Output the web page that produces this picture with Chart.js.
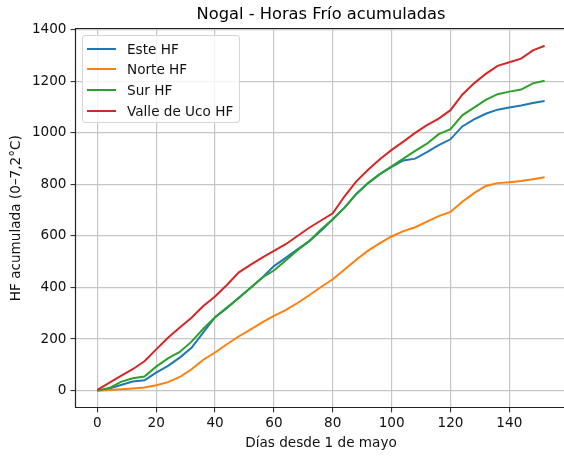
<!DOCTYPE html>
<html>
<head>
<meta charset="utf-8">
<script src="https://cdn.jsdelivr.net/npm/chart.js@4/dist/chart.umd.min.js"></script>
<style>
  html, body { margin: 0; padding: 0; overflow: hidden; background: #fff; }
  #wrap { position: relative; width: 580px; height: 458px; }
  #legend {
    position: absolute; left: 82px; top: 35px; width: 156px; height: 86px;
    background: rgba(255,255,255,0.8); border: 1px solid #d6d6d6; border-radius: 3px;
    font-family: 'DejaVu Sans', sans-serif; font-size: 13.6px; color: #111;
  }
  #legend .row { position: absolute; left: 0; height: 18px; display: flex; align-items: center; white-space: nowrap; }
  #legend .swatch { display: inline-block; width: 29px; height: 2px; margin-left: 4px; margin-right: 11px; }
</style>
</head>
<body>
<div id="wrap">
  <canvas id="chart"></canvas>
  <div id="legend"></div>
</div>
<script>
'use strict';

// ── Data ──────────────────────────────────────────────────────────────────────

const days = [0, 4, 8, 12, 16, 20, 24, 28, 32, 36, 40, 44, 48, 52, 56, 60, 64, 68, 72, 76,
              80, 84, 88, 92, 96, 100, 104, 108, 112, 116, 120, 124, 128, 132, 136, 140, 144, 148, 152];

const esteHF  = [0, 8, 22, 35, 40, 70, 96, 128, 166, 226, 285, 320, 360, 398, 438, 483, 515, 548, 580, 620,
                 665, 710, 763, 805, 840, 868, 893, 900, 925, 952, 975, 1025, 1052, 1074, 1090, 1098, 1106, 1116, 1124];
const norteHF = [0, 2, 5, 8, 12, 21, 33, 53, 83, 120, 148, 180, 210, 237, 265, 290, 312, 340, 370, 402,
                 432, 470, 508, 543, 572, 598, 619, 634, 656, 677, 693, 733, 766, 794, 805, 808, 813, 820, 828];
const surHF   = [0, 10, 34, 48, 55, 93, 125, 150, 190, 240, 285, 322, 358, 398, 438, 466, 505, 545, 580, 625,
                 665, 710, 763, 805, 840, 870, 900, 930, 958, 995, 1014, 1068, 1098, 1128, 1150, 1160, 1168, 1192, 1202];
const valleHF = [3, 30, 57, 83, 114, 160, 205, 245, 283, 328, 365, 410, 458, 488, 516, 542, 568, 600, 632, 660,
                 688, 754, 812, 857, 898, 934, 966, 1000, 1030, 1055, 1088, 1148, 1192, 1229, 1260, 1274, 1288, 1320, 1338];

const seriesNames  = ['Este HF', 'Norte HF', 'Sur HF', 'Valle de Uco HF'];
const seriesColors = ['#1f77b4', '#ff7f0e', '#2ca02c', '#d62728'];

const xTicks = [0, 20, 40, 60, 80, 100, 120, 140];
const yTicks = [0, 200, 400, 600, 800, 1000, 1200, 1400];

// ── Helpers ───────────────────────────────────────────────────────────────────

const FONT = "'DejaVu Sans', sans-serif";
const TEXT = '#111';

function lineDataset(label, values, color, order) {
  return {
    label,
    data: days.map((d, i) => ({ x: d, y: values[i] })),
    borderColor: color,
    backgroundColor: color,
    borderWidth: 2,
    pointRadius: 0,
    tension: 0,
    order,
  };
}

// matplotlib draws a full box round the axes
const frame = {
  id: 'frame',
  afterDraw(chart) {
    const { ctx, chartArea: a } = chart;
    const l = Math.round(a.left) + 0.5, t = Math.round(a.top) + 0.5;
    const r = Math.round(a.right) - 0.5, b = Math.round(a.bottom) - 0.5;
    ctx.save();
    ctx.strokeStyle = '#222';
    ctx.lineWidth = 1.2;
    ctx.beginPath();
    ctx.moveTo(l, b); ctx.lineTo(l, t); ctx.lineTo(r, t); ctx.lineTo(r, b); ctx.closePath();
    ctx.stroke();
    ctx.restore();
  },
};

// ── Chart ─────────────────────────────────────────────────────────────────────

const grid = { color: '#c6c6c6', lineWidth: 1.2, tickColor: '#222', tickLength: 4.5, tickWidth: 1 };

const chart = new Chart(document.getElementById('chart'), {
  type: 'line',
  data: {
    datasets: [
      lineDataset(seriesNames[0], esteHF, seriesColors[0], 4),
      lineDataset(seriesNames[1], norteHF, seriesColors[1], 3),
      lineDataset(seriesNames[2], surHF, seriesColors[2], 2),
      lineDataset(seriesNames[3], valleHF, seriesColors[3], 1),
    ],
  },
  options: {
    responsive: true,
    maintainAspectRatio: false,
    animation: false,
    layout: { padding: { left: 0, right: 13, top: 0, bottom: 0 } },
    plugins: {
      legend: { display: false },
      tooltip: { enabled: false },
      title: {
        display: true,
        text: 'Nogal - Horas Frío acumuladas',
        fullSize: false,
        color: '#000',
        font: { family: FONT, size: 16.3, weight: 'normal' },
        padding: { top: 5, bottom: 3.9 },
      },
    },
    scales: {
      x: {
        type: 'linear',
        min: -7.6,
        max: 159.6,
        grid,
        border: { display: false },
        afterBuildTicks: s => { s.ticks = xTicks.map(v => ({ value: v })); },
        afterFit: s => { s.height = 50.1; },
        ticks: { color: TEXT, padding: 2.5, maxRotation: 0, font: { family: FONT, size: 13.6 }, callback: v => String(v) },
        title: {
          display: true,
          text: 'Días desde 1 de mayo',
          color: TEXT,
          font: { family: FONT, size: 13.6 },
          padding: { top: 0, bottom: 6.8 },
        },
      },
      y: {
        type: 'linear',
        min: -67,
        max: 1405,
        grid,
        border: { display: false },
        afterBuildTicks: s => { s.ticks = yTicks.map(v => ({ value: v })); },
        afterFit: s => { s.width = 75; },
        ticks: { color: TEXT, padding: 4, font: { family: FONT, size: 13.6 }, callback: v => String(v) },
        title: {
          display: true,
          text: 'HF acumulada (0–7,2°C)',
          color: TEXT,
          font: { family: FONT, size: 13.6 },
          padding: { top: 8.8, bottom: 0 },
        },
      },
    },
  },
  plugins: [frame],
});

// ── Legend (inside the axes, upper left) ──────────────────────────────────────

function renderLegend() {
  const el = document.getElementById('legend');
  el.innerHTML = '';
  seriesNames.forEach((name, i) => {
    const row = document.createElement('div');
    row.className = 'row';
    row.style.top = (3.7 + i * 20.7) + 'px';
    row.innerHTML = `<span class="swatch" style="background:${seriesColors[i]}"></span>${name}`;
    el.appendChild(row);
  });
}

renderLegend();
</script>
</body>
</html>
